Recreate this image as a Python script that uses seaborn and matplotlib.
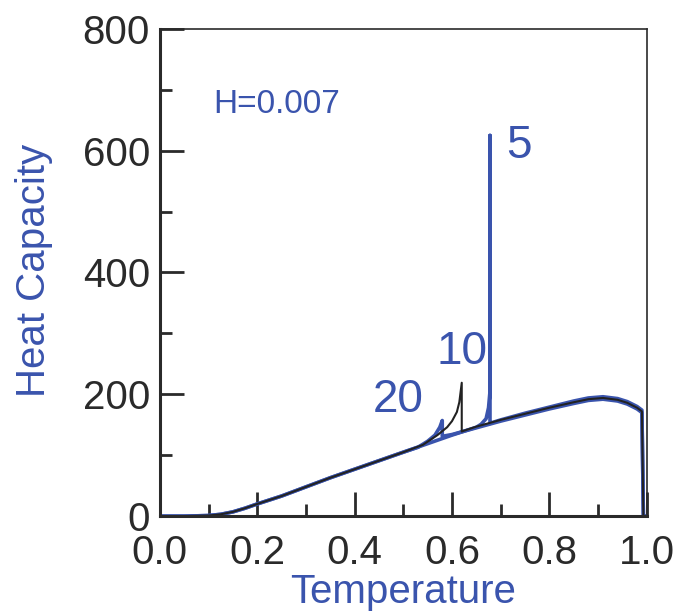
import matplotlib
matplotlib.use("Agg")
import matplotlib.pyplot as plt
from matplotlib.ticker import MultipleLocator, FormatStrFormatter
from matplotlib.transforms import ScaledTranslation
import pandas as pd
import seaborn as sns

# Heat capacity vs temperature for three system sizes (H = 0.007)
temp_5 = [0.00, 0.05, 0.10, 0.125, 0.15, 0.175, 0.20, 0.25, 0.30, 0.35, 0.40,
          0.45, 0.50, 0.55, 0.60, 0.65, 0.66, 0.67, 0.675, 0.678, 0.678, 0.678,
          0.68, 0.70, 0.75, 0.80, 0.85, 0.88, 0.91, 0.94, 0.96, 0.98, 0.99,
          0.993, 1.00]
heat_5 = [0, 0, 1, 3, 7, 13, 20, 33, 48, 63, 77,
          91, 105, 119, 133, 146, 151, 160, 178, 205, 625, 152,
          153, 158, 169, 179, 189, 194, 196, 193, 188, 180, 174,
          0, 0]

temp_10 = [0.00, 0.05, 0.10, 0.125, 0.15, 0.175, 0.20, 0.25, 0.30, 0.35, 0.40,
           0.45, 0.50, 0.54, 0.555, 0.57, 0.59, 0.60, 0.61, 0.615, 0.62, 0.62,
           0.65, 0.70, 0.75, 0.80, 0.85, 0.88, 0.91, 0.94, 0.96, 0.98, 0.99,
           0.993, 1.00]
heat_10 = [0, 0, 1, 3, 7, 13, 20, 33, 48, 63, 77,
           91, 105, 117, 125, 133, 146, 156, 171, 187, 219, 139,
           147, 158, 168, 178, 187, 192, 194, 191, 186, 178, 172,
           0, 0]

temp_20 = [0.00, 0.05, 0.10, 0.125, 0.15, 0.175, 0.20, 0.25, 0.30, 0.35, 0.40,
           0.45, 0.50, 0.53, 0.55, 0.565, 0.575, 0.58, 0.58, 0.60, 0.65, 0.70,
           0.75, 0.80, 0.85, 0.88, 0.91, 0.94, 0.96, 0.98, 0.99, 0.993, 1.00]
heat_20 = [0, 0, 1, 3, 7, 13, 20, 33, 48, 63, 77,
           91, 105, 113, 123, 133, 146, 157, 131, 134, 145, 156,
           166, 176, 185, 190, 192, 189, 184, 176, 170, 0, 0]

size_labels = ["5", "10", "20"]
label_pos_t = [0.712, 0.569, 0.437]
label_pos_c = [607, 269, 190]

BLUE = "#3a54ad"
DARK = "#222222"
AXIS = "#2a2a2a"

sns.set_theme(style="ticks")
plt.rcParams["font.family"] = ["Liberation Sans", "DejaVu Sans"]

df5 = pd.DataFrame({"T": temp_5, "C": heat_5})
df10 = pd.DataFrame({"T": temp_10, "C": heat_10})
df20 = pd.DataFrame({"T": temp_20, "C": heat_20})

fig = plt.figure(figsize=(6.83, 6.13), dpi=100)
ax = fig.add_axes([0.234, 0.158, 0.713, 0.795])

sns.lineplot(data=df5, x="T", y="C", sort=False, estimator=None, ax=ax,
             color=BLUE, lw=2.6)
sns.lineplot(data=df20, x="T", y="C", sort=False, estimator=None, ax=ax,
             color=BLUE, lw=2.6)
sns.lineplot(data=df10, x="T", y="C", sort=False, estimator=None, ax=ax,
             color=DARK, lw=1.5)

ax.set_xlim(0, 1.0)
ax.set_ylim(0, 800)
ax.xaxis.set_major_locator(MultipleLocator(0.2))
ax.xaxis.set_minor_locator(MultipleLocator(0.1))
ax.yaxis.set_major_locator(MultipleLocator(200))
ax.yaxis.set_minor_locator(MultipleLocator(100))
ax.xaxis.set_major_formatter(FormatStrFormatter("%.1f"))

ax.tick_params(which="both", bottom=True, left=True, top=False, right=False)
ax.tick_params(which="major", direction="in", length=17, width=2.0,
               color=AXIS, labelsize=29, labelcolor=AXIS)
ax.tick_params(which="minor", direction="in", length=8.5, width=2.0, color=AXIS)
ax.tick_params(axis="x", which="major", pad=13)
ax.tick_params(axis="y", which="major", pad=7)

for side in ["left", "bottom"]:
    ax.spines[side].set_linewidth(2.2)
    ax.spines[side].set_color(AXIS)
for side in ["top", "right"]:
    ax.spines[side].set_linewidth(1.2)
    ax.spines[side].set_color(AXIS)

ax.set_xlabel("Temperature", fontsize=29, color=BLUE)
ax.set_ylabel("Heat Capacity", fontsize=29, color=BLUE)
ax.xaxis.set_label_coords(0.5, -0.117)
ax.yaxis.set_label_coords(-0.22, 0.505)

ax.text(0.109, 675, "H=0.007", fontsize=24, color=BLUE, va="center", ha="left")
for lab, tx, cy in zip(size_labels, label_pos_t, label_pos_c):
    ax.text(tx, cy, lab, fontsize=33, color=BLUE, va="center", ha="left")

# lift the y-axis "0" slightly so it clears the "0.0" below it
fig.canvas.draw()
zero_label = ax.yaxis.get_major_ticks()[0].label1
zero_label.set_transform(zero_label.get_transform()
                         + ScaledTranslation(0, 4 / 72, fig.dpi_scale_trans))

fig.savefig("out.png", dpi=100)
